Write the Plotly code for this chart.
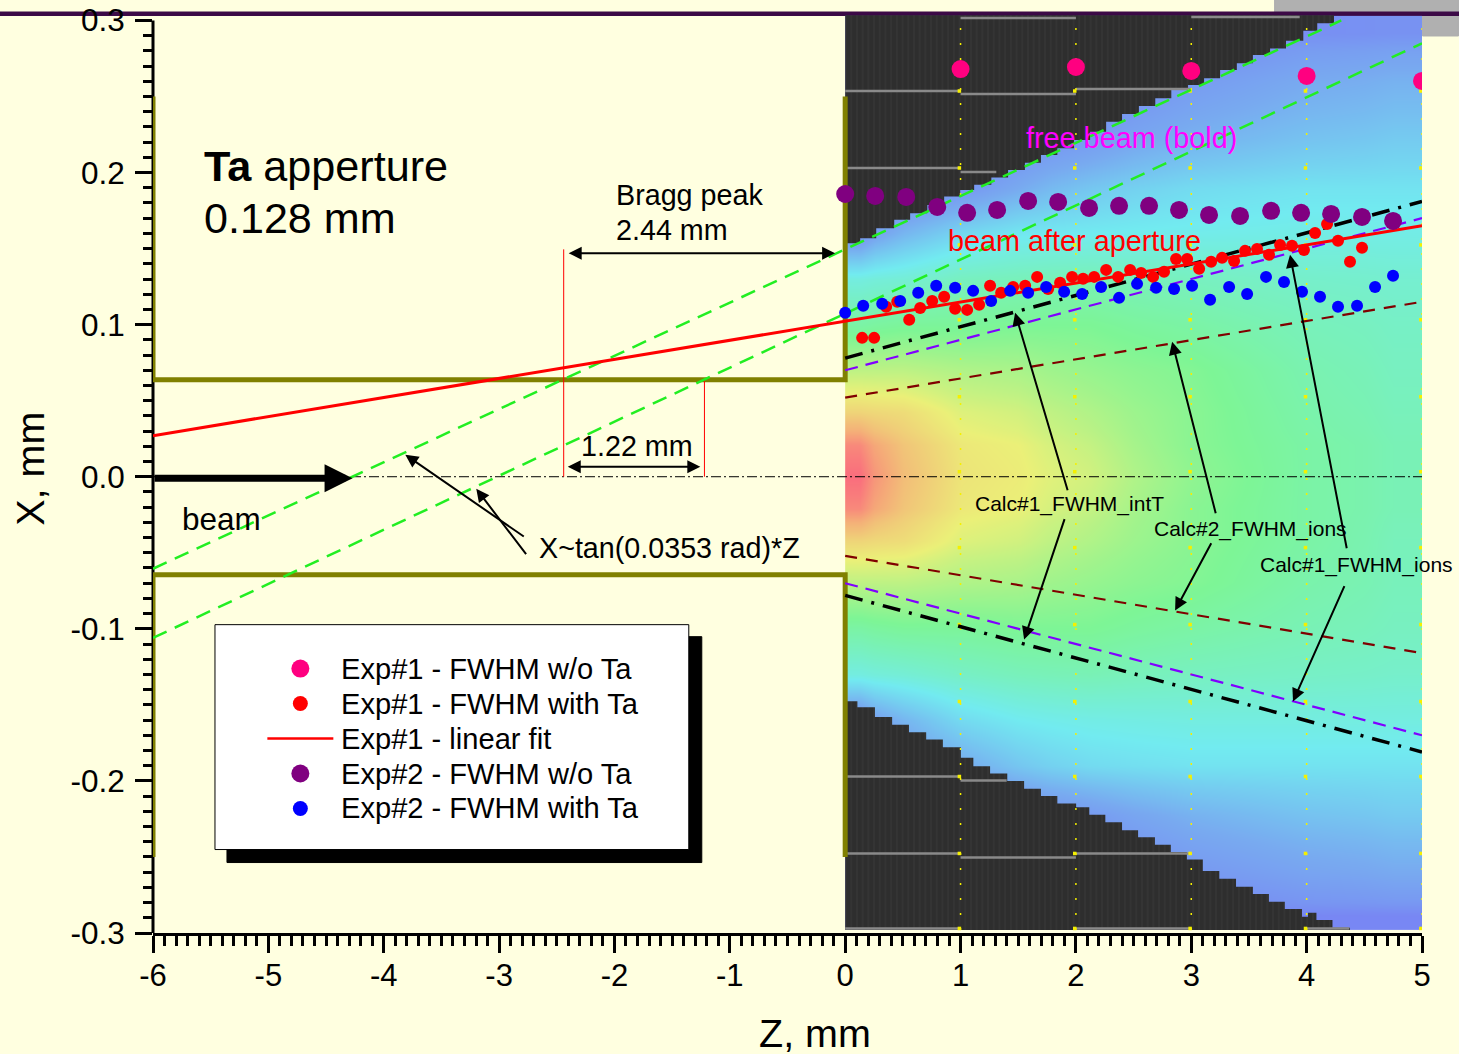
import plotly.graph_objects as go

# ---------- pixel helpers for label placement ----------
def X(px): return (px - 845.0) / 115.4
def Y(py): return (477.0 - py) / 1522.0
def PX(px): return (px - 153.0) / 1269.5
def PY(py): return (933.5 - py) / 920.5

# ---------- measured data ----------
exp1_no_x = [1, 2, 3, 4, 5]
exp1_no_y = [0.268, 0.2694, 0.2668, 0.2635, 0.2602]

exp1_ta_x = [.147,.251,.355,.451,.555,.65,.754,.858,.953,1.057,1.161,1.256,1.352,1.456,1.56,1.664,1.759,1.863,1.967,2.062,2.158,2.262,2.366,2.47,2.565,2.669,2.764,2.868,2.964,3.068,3.172,3.267,3.371,3.466,3.57,3.674,3.77,3.873,3.977,4.073,4.177,4.272,4.376,4.48]
exp1_ta_y = [.0913,.0913,.1117,.115,.1032,.111,.1156,.1183,.1104,.1097,.113,.1255,.1209,.1248,.1255,.1314,.1235,.1275,.1314,.1301,.1314,.136,.1314,.136,.134,.1314,.1347,.1432,.1432,.1367,.1413,.1439,.1419,.1485,.1498,.1459,.1524,.1518,.1491,.1603,.1662,.1551,.1413,.1505]

fit_x = [-6, 5]
fit_y = [0.027, 0.165]

exp2_no_x = [0,.26,.529,.798,1.057,1.317,1.586,1.846,2.114,2.374,2.634,2.894,3.154,3.423,3.692,3.952,4.212,4.48,4.749]
exp2_no_y = [.1859,.1846,.184,.1774,.1735,.1754,.1813,.1807,.1767,.1781,.1781,.1754,.1721,.1715,.1748,.1735,.1728,.1708,.1682]

exp2_ta_x = [0,.156,.321,.477,.633,.789,.953,1.109,1.265,1.43,1.586,1.742,1.898,2.054,2.218,2.374,2.53,2.695,2.851,3.007,3.163,3.328,3.484,3.648,3.804,3.96,4.116,4.272,4.437,4.593,4.749]
exp2_ta_y = [.1078,.1124,.1137,.1156,.1209,.1255,.1242,.1222,.1156,.1222,.1209,.1248,.1216,.1202,.1248,.1176,.1268,.1242,.1235,.1255,.1163,.1248,.1202,.1314,.1281,.1216,.1183,.1117,.1124,.1248,.1321]

free1_x = [-6, 4.3]
free1_y = [-0.0605, 0.30]
free2_x = [-6, 5]
free2_y = [-0.106, 0.285]

calc_x = [0, 5]
calc1_int_up = [0.078, 0.181]
calc1_int_lo = [-0.078, -0.181]
calc1_ion_up = [0.070, 0.170]
calc1_ion_lo = [-0.070, -0.170]
calc2_ion_up = [0.052, 0.115]
calc2_ion_lo = [-0.052, -0.116]

# colour map: columns (edges) and rows (edges) of the calculated intensity image
map_x_edges = [0, .25, .75, 1.25, 1.75, 2.5, 3.5, 4.5, 5]
map_y_edges = [-.298,-.28,-.24,-.205,-.175,-.145,-.115,-.085,-.055,-.03,-.012,.012,.03,.055,.085,.115,.145,.175,.205,.24,.28,.303]
map_z = [
 [0,0,0,0,0,.02,.05,.05],
 [0,0,0,0,.04,.11,.15,.17],
 [0,0,.03,.07,.12,.19,.23,.25],
 [.03,.1,.17,.24,.29,.31,.31,.31],
 [.08,.2,.29,.33,.35,.36,.36,.36],
 [.36,.38,.41,.43,.44,.42,.41,.40],
 [.47,.49,.49,.50,.50,.47,.44,.42],
 [.60,.60,.58,.57,.54,.51,.46,.43],
 [.74,.72,.65,.63,.58,.52,.47,.43],
 [.93,.78,.69,.67,.61,.52,.47,.44],
 [1.0,.80,.70,.68,.63,.53,.47,.44],
 [.93,.78,.69,.67,.61,.52,.47,.44],
 [.74,.72,.65,.63,.58,.52,.46,.43],
 [.60,.60,.58,.57,.54,.51,.45,.42],
 [.47,.49,.49,.50,.50,.47,.43,.41],
 [.36,.38,.42,.43,.44,.42,.40,.39],
 [.08,.2,.28,.32,.33,.34,.35,.35],
 [.03,.05,.1,.17,.24,.29,.31,.31],
 [0,0,.03,.07,.12,.19,.23,.25],
 [0,0,0,0,.05,.12,.17,.19],
 [0,0,0,0,0,.03,.08,.09],
]
map_scale = [[0,"#7878f5"],[.17,"#78aaf0"],[.33,"#72ebf0"],[.5,"#7df596"],[.67,"#ebf078"],[.85,"#f5aa78"],[1,"#fa6e7d"]]

# stair-stepped edge of the calculated image
top_edge_x = [0,.13,.269,.425,.563,.712,.858,.997,1.118,1.267,1.412,1.558,1.697,1.839,1.984,2.123,2.262,2.4,2.546,2.688,2.827,2.972,3.111,3.25,3.395,3.534,3.683,3.821,3.971,4.092,4.237]
top_edge_y = [.1535,.1568,.1634,.1689,.1732,.1787,.1842,.1886,.1919,.1967,.2017,.2065,.2116,.2159,.2214,.2269,.2334,.2385,.2438,.2488,.2543,.2576,.262,.2674,.2718,.2773,.2816,.2867,.2933,.2981,.3029]
low_edge_x = [0,.106,.258,.407,.553,.702,.847,1.003,1.111,1.256,1.405,1.551,1.697,1.839,2.002,2.116,2.255,2.4,2.539,2.685,2.823,2.962,3.1,3.243,3.388,3.534,3.673,3.811,3.96,4.012,4.085,4.224,4.376]
low_edge_y = [-.1476,-.1516,-.1579,-.163,-.168,-.1728,-.1778,-.1848,-.1903,-.1951,-.2,-.2052,-.21,-.2148,-.2173,-.2223,-.2271,-.2324,-.237,-.242,-.2468,-.2516,-.2593,-.2643,-.2696,-.2744,-.2794,-.2843,-.2893,-.2867,-.2915,-.2965,-.298]

# gray seams of the image tiles over the dark part
seam_x0 = [0,1,2,1,3,0,1,0,1,0,1,2,0,2,4]
seam_x1 = [1,2,3,2,3.94,1,1.31,1,1.4,1,2,3,1,3,4.37]
seam_y  = [.2536,.2516,.2549,.3016,.3022,.203,.2004,-.1971,-.1997,-.2477,-.2503,-.2477,-.297,-.297,-.297]
mark_cols = [.99, 1.99, 2.99, 3.99, 4.99]
mark_rows = [.2536,.203,.1524,.1032,.0526,.0033,-.0466,-.0972,-.1478,-.1971,-.2477,-.297]

z_ticks = [-6,-5,-4,-3,-2,-1,0,1,2,3,4,5]
z_labels = ["-6","-5","-4","-3","-2","-1","0","1","2","3","4","5"]
x_ticks = [-.3,-.2,-.1,0,.1,.2,.3]
x_labels = ["-0.3","-0.2","-0.1","0.0","0.1","0.2","0.3"]

OLIVE = "#808000"
FONT = "Liberation Sans, Arial, sans-serif"
DARK = "#2e2e2e"
PINK, RED, PURPLE, BLUE = "#ff0080", "#ff0000", "#800080", "#0000ff"

fig = go.Figure()
fig.add_trace(go.Heatmap(x=map_x_edges, y=map_y_edges, z=map_z, zmin=0, zmax=1, zsmooth="best",
                         colorscale=map_scale, showscale=False, hoverinfo="skip"))
stripes = dict(shape="|", size=5.7, solidity=.12, fgcolor="#4a4a4a", bgcolor=DARK)
fig.add_trace(go.Scatter(x=top_edge_x+[4.237,0], y=top_edge_y+[.3035,.3035], mode="lines", fill="toself",
                         fillcolor=DARK, fillpattern=stripes, line=dict(color=DARK,width=0,shape="hv"), showlegend=False, hoverinfo="skip"))
fig.add_trace(go.Scatter(x=low_edge_x+[4.376,0], y=low_edge_y+[-.298,-.298], mode="lines", fill="toself",
                         fillcolor=DARK, fillpattern=stripes, line=dict(color=DARK,width=0,shape="hv"), showlegend=False, hoverinfo="skip"))
# seams
sx, sy = [], []
for a, b, c in zip(seam_x0, seam_x1, seam_y):
    sx += [a, b, None]; sy += [c, c, None]
fig.add_trace(go.Scatter(x=sx, y=sy, mode="lines", line=dict(color="#8a8a8a", width=2.5), showlegend=False, hoverinfo="skip"))
# yellow tile marks
vx, vy = [], []
for c in mark_cols:
    vx += [c+.01, c+.01, None]; vy += [-.298, .3, None]
fig.add_trace(go.Scatter(x=vx, y=vy, mode="lines", line=dict(color="#f5f000", width=1.5, dash="2px,13px"), showlegend=False, hoverinfo="skip"))
mx = [c for c in mark_cols for _ in mark_rows]
my = [r for _ in mark_cols for r in mark_rows]
fig.add_trace(go.Scatter(x=mx, y=my, mode="markers", marker=dict(symbol="square", size=3.5, color="#f5f000"), showlegend=False, hoverinfo="skip"))

# aperture
fig.add_trace(go.Scatter(x=[-6,-6,0,0,None,-6,-6,0,0], y=[.25,.0637,.0637,.25,None,-.25,-.0644,-.0644,-.25],
                         mode="lines", line=dict(color=OLIVE,width=5), cliponaxis=False, showlegend=False, hoverinfo="skip"))
# centre line and red guides
fig.add_trace(go.Scatter(x=[-6,5], y=[0,0], mode="lines", line=dict(color="black",width=1,dash="10px,3px,2px,3px"), showlegend=False, hoverinfo="skip"))
fig.add_trace(go.Scatter(x=[-2.44,-2.44,None,-1.22,-1.22], y=[.1495,0,None,.0637,0], mode="lines", line=dict(color="red",width=1), showlegend=False, hoverinfo="skip"))
# free beam
for gx, gy in ((free1_x, free1_y), (free2_x, free2_y)):
    fig.add_trace(go.Scatter(x=gx, y=gy, mode="lines", line=dict(color="#22ee22",width=2.5,dash="15px,9px"), showlegend=False, hoverinfo="skip"))
# calculations
for cy, col, w, d in ((calc2_ion_up,"#800000",2.2,"12px,9px"),(calc2_ion_lo,"#800000",2.2,"12px,9px"),
                      (calc1_ion_up,"#8000ff",2.2,"13px,8px"),(calc1_ion_lo,"#8000ff",2.2,"13px,8px"),
                      (calc1_int_up,"black",3.5,"18px,9px,3px,9px"),(calc1_int_lo,"black",3.5,"18px,9px,3px,9px")):
    fig.add_trace(go.Scatter(x=calc_x, y=cy, mode="lines", line=dict(color=col,width=w,dash=d), showlegend=False, hoverinfo="skip"))

fig.add_trace(go.Scatter(x=exp1_ta_x, y=exp1_ta_y, mode="markers", name="Exp#1 - FWHM with Ta", showlegend=False,
                         marker=dict(color=RED, size=12)))
fig.add_trace(go.Scatter(x=fit_x, y=fit_y, mode="lines", name="Exp#1 - linear fit", showlegend=False,
                         line=dict(color=RED, width=3)))
fig.add_trace(go.Scatter(x=exp1_no_x, y=exp1_no_y, mode="markers", name="Exp#1 - FWHM w/o Ta", showlegend=False,
                         marker=dict(color=PINK, size=18)))
fig.add_trace(go.Scatter(x=exp2_no_x, y=exp2_no_y, mode="markers", name="Exp#2 - FWHM w/o Ta", showlegend=False,
                         marker=dict(color=PURPLE, size=18)))
fig.add_trace(go.Scatter(x=exp2_ta_x, y=exp2_ta_y, mode="markers", name="Exp#2 - FWHM with Ta", showlegend=False,
                         marker=dict(color=BLUE, size=12)))

def label(text, px, py, size=28.7, color="black", anchor="left", angle=0, paper=False, height=None):
    if anchor == "left":
        px -= 2
    fig.add_annotation(x=PX(px) if paper else X(px), y=PY(py) if paper else Y(py),
                       xref="paper" if paper else "x", yref="paper" if paper else "y",
                       text=text, showarrow=False, xanchor=anchor, yanchor="middle", height=height,
                       textangle=angle, font=dict(size=size, color=color, family=FONT))
def arrow(x0, y0, x1, y1, width=2, size=1.3, side="end"):
    fig.add_annotation(x=x1, y=y1, ax=x0, ay=y0, xref="x", yref="y", axref="x", ayref="y", text="", showarrow=True,
                       arrowhead=2, arrowwidth=width, arrowsize=size, arrowcolor="black", arrowside=side, startarrowhead=2, startarrowsize=size)

label("<b>Ta</b> apperture", 204, 166, 43.2)
label("0.128 mm", 204, 218, 43.1)
label("Bragg peak", 616, 195)
label("2.44 mm", 616, 230)
label("1.22 mm", 581, 446)
label("beam", 182, 519, 31.5)
label("X~tan(0.0353 rad)*Z", 539, 548)
label("free beam (bold)", 1026, 138, 28.8, "#ff00ff")
label("beam after aperture", 948, 241, 28.8, "#ff0000")
label("Calc#1_FWHM_intT", 975, 504, 21)
label("Calc#2_FWHM_ions", 1154, 529, 21)
label("Calc#1_FWHM_ions", 1260, 565, 21)
label("Z, mm", 815, 1034, 39.5, anchor="center", paper=True, height=38)
label("X, mm", 30, 469, 39.5, anchor="center", angle=-90, paper=True)

arrow(-2.41, .147, -.087, .147, side="end+start")
arrow(-2.418, .0066, -1.256, .0066, side="end+start")
arrow(1.932, -.0099, 1.473, .1078)
arrow(1.906, -.0269, 1.551, -.1071)
arrow(3.215, -.025, 2.834, .0887)
arrow(3.18, -.0427, 2.86, -.088)
arrow(4.35, -.048, 3.856, .1459)
arrow(4.333, -.071, 3.882, -.1478)
arrow(-2.773, -.040, -3.813, .0145)
arrow(-2.756, -.0519, -3.198, -.0079)
arrow(-6.0, -.001, -4.27, -.001, width=7, size=0.8)

def rect(x0, y0, x1, y1, color, layer="below", line=None):
    fig.add_shape(type="rect", xref="paper", yref="paper", layer=layer,
                  x0=PX(x0), x1=PX(x1), y0=PY(y0), y1=PY(y1),
                  fillcolor=color, line=dict(color=line or color, width=1))

rect(1275, 0, 1459, 14, "#b0b0b0")
rect(1423, 14, 1459, 36, "#b0b0b0")
rect(-1, 12, 1460, 15.5, "#3c0a46")
rect(227, 637, 702, 863, "black")
rect(215, 625, 689, 850, "white", line="black")
fig.add_shape(type="line", xref="paper", yref="y", x0=0, x1=0, y0=-.3, y1=.3, layer="below", line=dict(color="black", width=3))

# legend box contents
key_names = ["Exp#1 - FWHM w/o Ta", "Exp#1 - FWHM with Ta", "Exp#1 - linear fit", "Exp#2 - FWHM w/o Ta", "Exp#2 - FWHM with Ta"]
key_colors = [PINK, RED, None, PURPLE, BLUE]
key_sizes = [18, 15, 0, 18, 15]
key_rows = [669, 704, 739, 774, 809]
for nm, col, sz, py in zip(key_names, key_colors, key_sizes, key_rows):
    if col:
        fig.add_trace(go.Scatter(x=[X(300)], y=[Y(py)], mode="markers", marker=dict(color=col, size=sz), showlegend=False, hoverinfo="skip"))
    else:
        fig.add_trace(go.Scatter(x=[X(267), X(333)], y=[Y(py), Y(py)], mode="lines", line=dict(color=RED, width=2.5), showlegend=False, hoverinfo="skip"))
    label(nm, 341, py, 29.1)

fig.update_layout(
    width=1459, height=1054, autosize=False,
    margin=dict(l=153, r=36.5, t=13, b=120.5, pad=0, autoexpand=False),
    paper_bgcolor="#ffffe0", plot_bgcolor="#ffffe0",
    font=dict(family=FONT, color="black", size=28),
    hovermode=False, showlegend=False,
    xaxis=dict(range=[-6,5], tickmode="array", tickvals=z_ticks, ticktext=z_labels, ticks="outside", ticklen=17, tickwidth=3,
               tickcolor="black", showline=True, linecolor="black", linewidth=3, showgrid=False, zeroline=False,
               tickfont=dict(size=31, family=FONT), ticklabelstandoff=-4,
               minor=dict(ticks="outside", ticklen=10, tickwidth=2.5, tickcolor="black", dtick=.1, tick0=-6, showgrid=False)),
    yaxis=dict(range=[-.3,.3049], tickmode="array", tickvals=x_ticks, ticktext=x_labels, ticks="outside", ticklen=17, tickwidth=2.5,
               tickcolor="black", showline=False, showgrid=False, zeroline=False,
               tickfont=dict(size=31.5, family=FONT), ticklabelstandoff=4,
               minor=dict(ticks="outside", ticklen=9, tickwidth=2.5, tickcolor="black", dtick=.01, tick0=0, showgrid=False)),
)
fig.write_html("out.html", config=dict(displayModeBar=False), post_script="document.body.style.margin='0';")
